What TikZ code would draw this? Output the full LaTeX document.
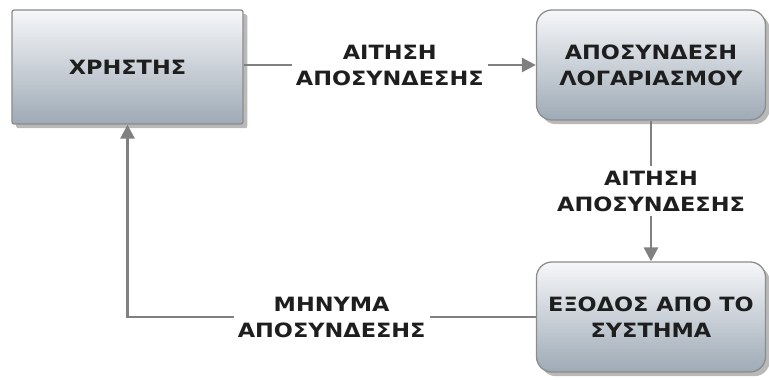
\documentclass[tikz,border=0pt]{standalone}
\usepackage{fontspec}
\setmainfont{DejaVu Sans}[FakeStretch=1.14]
\usepackage{tikz}
\usetikzlibrary{arrows.meta,positioning,shadows}
\definecolor{boxtop}{RGB}{246,247,249}
\definecolor{boxbot}{RGB}{158,170,182}
\definecolor{boxline}{RGB}{140,140,140}
\definecolor{flowgray}{RGB}{128,128,128}
\definecolor{txtdark}{RGB}{30,30,30}

\begin{document}
\begin{tikzpicture}[
  x=0.025cm, y=-0.025cm,
  every node/.style={font=\fontsize{14}{18.5}\selectfont\bfseries, text=txtdark},
  actor/.style={rectangle, draw=boxline, line width=0.9pt, rounded corners=1.5pt,
                top color=boxtop, bottom color=boxbot, align=center,
                minimum width=5.775cm, minimum height=2.85cm,
                drop shadow={shadow xshift=3pt, shadow yshift=-3pt, opacity=0.55}},
  proc/.style={actor, rounded corners=11pt, minimum width=5.725cm, minimum height=2.75cm},
  flow/.style={draw=flowgray, line width=2pt, -{Triangle[length=10pt, width=10pt]}},
  lbl/.style={fill=white, align=center, inner sep=3pt}
]
  \useasboundingbox (0,0) rectangle (769,380);
  \node[actor] (user) at (127.5,67) {ΧΡΗΣΤΗΣ};
  \node[proc] (logout) at (651,65) {ΑΠΟΣΥΝΔΕΣΗ\\ΛΟΓΑΡΙΑΣΜΟΥ};
  \node[proc] (exit) at (651,317) {ΕΞΟΔΟΣ ΑΠΟ ΤΟ\\ΣΥΣΤΗΜΑ};
  % connectors
  \draw[flow] (user.east |- logout.west) -- node[lbl] {ΑΙΤΗΣΗ\\ΑΠΟΣΥΝΔΕΣΗΣ} (logout.west);
  \draw[flow] (logout.south) -- node[lbl] {ΑΙΤΗΣΗ\\ΑΠΟΣΥΝΔΕΣΗΣ} (exit.north);
  \draw[flow] (exit.west) -| node[lbl, pos=0.25] {ΜΗΝΥΜΑ\\ΑΠΟΣΥΝΔΕΣΗΣ} (user.south);
\end{tikzpicture}
\end{document}
